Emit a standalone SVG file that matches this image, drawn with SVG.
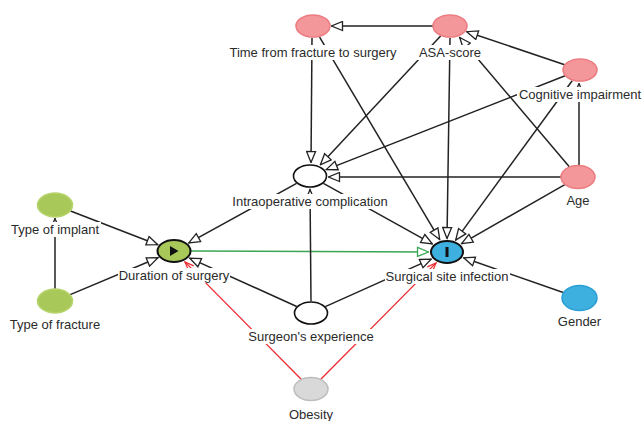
<svg xmlns="http://www.w3.org/2000/svg" width="644" height="421" viewBox="0 0 644 421">
<defs>
<style>
.e{stroke:#222;stroke-width:1.5;fill:none}
.a{marker-end:url(#arr)}
.g{stroke:#3aa655;stroke-width:1.5;fill:none;marker-end:url(#arrG)}
.r{stroke:#ec2a2f;stroke-width:1.3;fill:none;marker-end:url(#arrR)}
.pink{fill:#f3979a;stroke:#ec7c80;stroke-width:1.5}
.green{fill:#a9c85a;stroke:#b7d46e;stroke-width:1.5}
.blue{fill:#3db0e0;stroke:#2a9fd6;stroke-width:1.5}
.white{fill:#fff;stroke:#111;stroke-width:1.6}
.grey{fill:#d9d9d9;stroke:#bdbdbd;stroke-width:1.5}
.bg{fill:#fff}
text{font-family:"Liberation Sans",Arial,sans-serif;font-size:13px;fill:#2b2b2b;text-anchor:middle}
</style>
<marker id="arr" viewBox="-1 -1 13 11" refX="11" refY="4.5" markerWidth="13" markerHeight="11" markerUnits="userSpaceOnUse" orient="auto">
<path d="M0,0 L11,4.5 L0,9 Z" fill="#fff" stroke="#222" stroke-width="1.3"/>
</marker>
<marker id="arrG" viewBox="-1 -1 13 11" refX="11" refY="4.5" markerWidth="13" markerHeight="11" markerUnits="userSpaceOnUse" orient="auto">
<path d="M0,0 L11,4.5 L0,9 Z" fill="#fff" stroke="#3aa655" stroke-width="1.3"/>
</marker>
<marker id="arrR" viewBox="-1 -1 11 9" refX="9" refY="3.5" markerWidth="11" markerHeight="9" markerUnits="userSpaceOnUse" orient="auto">
<path d="M0,0 L9,3.5 L0,7" fill="none" stroke="#ec2a2f" stroke-width="1.2"/>
</marker>
</defs>
<rect width="644" height="421" fill="#fff"/>
<g id="connectors">
<line class="e a" x1="433" y1="26" x2="331.5" y2="26"/>
<line class="e a" x1="564.7" y1="64.8" x2="466.8" y2="31.7"/>
<line class="e a" x1="569.3" y1="166.7" x2="459.7" y2="37.5"/>
<line class="e a" x1="579" y1="165" x2="579" y2="83.5"/>
<line class="e a" x1="312" y1="38" x2="311" y2="162.5"/>
<line class="e a" x1="319.6" y1="37.1" x2="439.7" y2="239.6"/>
<line class="e a" x1="440.6" y1="36" x2="320.4" y2="164.8"/>
<line class="e a" x1="450" y1="38" x2="447" y2="238.5"/>
<line class="e a" x1="565.1" y1="75.8" x2="326.3" y2="169.6"/>
<line class="e a" x1="572.2" y1="80.7" x2="455.7" y2="240.1"/>
<line class="e a" x1="561" y1="177" x2="328.5" y2="177"/>
<line class="e a" x1="564.8" y1="184.6" x2="461.6" y2="243.7"/>
<line class="e a" x1="296.6" y1="183.4" x2="188.8" y2="242.9"/>
<line class="e a" x1="323.4" y1="183.4" x2="432.3" y2="243.8"/>
<line class="e a" x1="69.9" y1="210.8" x2="157.7" y2="244.7"/>
<line class="e a" x1="69.6" y1="294.9" x2="158" y2="257.7"/>
<line class="e a" x1="55" y1="289" x2="55" y2="218.5"/>
<line class="g" x1="191" y1="251" x2="428.5" y2="252"/>
<line class="e a" x1="296.7" y1="306.5" x2="189.7" y2="258.1"/>
<line class="e a" x1="325.3" y1="306.6" x2="431.2" y2="259.1"/>
<line class="e a" x1="311" y1="301" x2="310" y2="189.5"/>
<line class="r" x1="301.2" y1="379.2" x2="184.9" y2="261.9"/>
<line class="r" x1="320.8" y1="379.2" x2="436.1" y2="262.9"/>
<line class="e a" x1="563.2" y1="292.5" x2="463.7" y2="257.8"/>
</g>
<g id="node-time">
<ellipse class="pink" cx="313" cy="26" rx="17" ry="11"/>
<rect class="bg" x="227" y="45" width="172" height="15"/>
<text x="313" y="57">Time from fracture to surgery</text>
</g>
<g id="node-asa">
<ellipse class="pink" cx="450" cy="26" rx="17" ry="11"/>
<rect class="bg" x="417" y="45" width="66" height="15"/>
<text x="450" y="57">ASA-score</text>
</g>
<g id="node-cognitive">
<ellipse class="pink" cx="580" cy="70" rx="17" ry="11"/>
<rect class="bg" x="517" y="87" width="126" height="15"/>
<text x="580" y="99">Cognitive impairment</text>
</g>
<g id="node-age">
<ellipse class="pink" cx="578" cy="177" rx="17" ry="11.5"/>
<rect class="bg" x="565" y="193" width="27" height="15"/>
<text x="578" y="205">Age</text>
</g>
<g id="node-intraop">
<ellipse class="white" cx="310" cy="176" rx="16.5" ry="11"/>
<rect class="bg" x="231" y="194" width="159" height="15"/>
<text x="310" y="206">Intraoperative complication</text>
</g>
<g id="node-implant">
<ellipse class="green" cx="55" cy="205" rx="17.5" ry="12"/>
<rect class="bg" x="9" y="222" width="92" height="15"/>
<text x="55" y="234">Type of implant</text>
</g>
<g id="node-fracture">
<ellipse class="green" cx="55" cy="301" rx="17.5" ry="12"/>
<rect class="bg" x="8" y="317" width="95" height="15"/>
<text x="55" y="329">Type of fracture</text>
</g>
<g id="node-duration">
<ellipse cx="174" cy="251" rx="16.5" ry="11" fill="#a9c85a" stroke="#111" stroke-width="2"/>
<path d="M170,246 L178.5,251 L170,256 Z" fill="#111"/>
<rect class="bg" x="118" y="268" width="112" height="15"/>
<text x="174" y="280">Duration of surgery</text>
</g>
<g id="node-ssi">
<ellipse cx="447" cy="252" rx="16" ry="11" fill="#3db0e0" stroke="#111" stroke-width="2"/>
<rect x="445.5" y="247" width="3" height="10" fill="#111"/>
<rect class="bg" x="385" y="269" width="125" height="15"/>
<text x="447" y="281">Surgical site infection</text>
</g>
<g id="node-gender">
<ellipse class="blue" cx="579.5" cy="298" rx="17.5" ry="12.5"/>
<rect class="bg" x="556" y="314" width="47" height="15"/>
<text x="579.5" y="326">Gender</text>
</g>
<g id="node-surgeon">
<ellipse class="white" cx="311" cy="313" rx="16.5" ry="11"/>
<rect class="bg" x="247" y="329" width="128" height="15"/>
<text x="311" y="341">Surgeon's experience</text>
</g>
<g id="node-obesity">
<ellipse class="grey" cx="311" cy="389" rx="17" ry="11.5"/>
<rect class="bg" x="288" y="407" width="46" height="14"/>
<text x="311" y="419">Obesity</text>
</g>
</svg>
